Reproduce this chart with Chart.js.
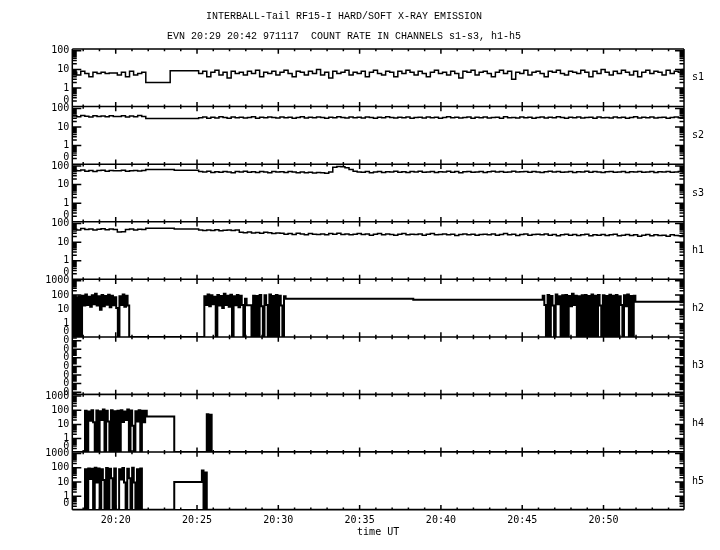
<!DOCTYPE html>
<html>
<head>
<meta charset="utf-8">
<title>INTERBALL-Tail RF15-I</title>
<script src="https://cdn.jsdelivr.net/npm/chart.js@4.4.0/dist/chart.umd.min.js"></script>
<style>
  body { margin: 0; background: #fff; }
  canvas { display: block; }
</style>
</head>
<body>
<canvas id="rfChart" width="720" height="550"></canvas>
<script>
// time axis: minutes after 20:00 UT
const timeStart = 17.33;
const timeEnd = 54.95;
const timeTicks = [20, 25, 30, 35, 40, 45, 50];
const channels = ['s1', 's2', 's3', 'h1', 'h2', 'h3', 'h4', 'h5'];

// s1-s3, h1: one count rate every 15 s from 20:17:21
const sampleStart = 17.35;
const sampleStep = 0.25;

const s1Counts = [7, 5, 8, 6, 4, 7, 6, 7, 6, 6.5, 6.5, 5, 7, 4, 8, 5, 6, 7,
  2, 2, 2, 2, 2, 2,
  8.6, 8.6, 8.6, 8.6, 8.6, 8.6, 8.6,
  6, 8, 4, 7, 9, 5, 7, 3.5, 8, 6,
  7, 5, 8, 6, 9, 4, 7, 6, 8, 5,
  7, 9, 6, 4, 8, 7, 5, 8, 6, 10,
  5, 7, 3.5, 8, 6, 7, 9, 5, 7, 6,
  8, 4, 7, 9, 6, 5, 8, 7, 4, 8,
  6, 9, 7, 5, 8, 6, 4, 7, 9, 6,
  7, 5, 8, 6, 3.5, 8, 7, 9, 5, 7,
  8, 6, 4, 7, 9, 6, 8, 3, 7, 6,
  9, 5, 7, 8, 6, 4, 8, 7, 9, 6,
  5, 8, 7, 6, 9, 7, 4, 8, 6, 10,
  7, 5, 8, 6, 9, 7, 5, 8, 4, 7,
  9, 6, 8, 7, 5, 9, 6, 8, 7, 10, 8];

const s2Counts = [40, 36, 42, 38, 35, 41, 37, 39, 36, 40, 37, 37, 41, 35, 39, 36, 42, 37,
  29, 29, 29, 29, 29, 29, 29, 29, 29, 29, 29, 29, 29,
  32, 35, 30, 34, 31, 36, 33, 30, 35, 32,
  34, 31, 33, 36, 30, 34, 32, 35, 33, 31,
  35, 32, 34, 30, 33, 36, 31, 34, 32, 35,
  33, 30, 34, 32, 36, 33, 31, 35, 32, 34,
  31, 35, 33, 30, 34, 32, 36, 33, 31, 34,
  32, 35, 30, 33, 34, 31, 35, 32, 34, 30,
  33, 36, 32, 34, 31, 33, 35, 30, 34, 32,
  35, 31, 33, 34, 30, 36, 32, 33, 31, 35,
  32, 34, 30, 33, 35, 31, 34, 32, 36, 33,
  30, 34, 32, 35, 31, 33, 34, 30, 35, 32,
  33, 31, 35, 32, 34, 30, 33, 36, 31, 34,
  32, 35, 31, 33, 34, 30, 33, 35, 32, 34, 33];

const s3Counts = [60, 55, 62, 52, 58, 50, 57, 60, 53, 58, 55, 56, 60, 52, 56, 58, 54, 57,
  66, 66, 66, 66, 66, 66, 66,
  59, 59, 59, 59, 59, 59,
  50, 47, 52, 45, 49, 46, 51, 48, 44, 50,
  47, 52, 46, 49, 45, 50, 48, 44, 51, 47,
  49, 45, 50, 47, 43, 48, 44, 46, 42, 45,
  43, 41, 48, 85, 95, 92, 80, 66, 52, 48,
  46, 50, 44, 48, 51, 45, 49, 47, 52, 46,
  49, 45, 50, 47, 53, 46, 48, 51, 45, 49,
  47, 52, 46, 50, 44, 49, 51, 46, 48, 50,
  45, 49, 52, 47, 50, 46, 48, 53, 47, 49,
  51, 46, 50, 48, 45, 49, 52, 47, 50, 46,
  48, 51, 45, 49, 47, 52, 46, 50, 48, 45,
  49, 51, 46, 48, 50, 45, 49, 47, 51, 46,
  48, 50, 45, 49, 47, 51, 46, 48, 50, 47, 49];

const h1Counts = [50, 45, 54, 48, 52, 46, 50, 53, 47, 51, 49, 35, 36, 48, 52, 46, 50, 49,
  56, 56, 56, 56, 56, 56, 56,
  51, 51, 51, 51, 51, 51,
  45, 42, 46, 43, 47, 41, 44, 46, 42, 45,
  34, 32, 35, 31, 33, 30, 34, 32, 29, 31,
  30, 27, 29, 26, 30, 28, 25, 29, 27, 26,
  28, 25, 29, 27, 30, 26, 28, 25, 27, 29,
  26, 28, 24, 27, 29, 25, 28, 26, 24, 27,
  29, 25, 27, 26, 28, 24, 27, 29, 25, 26,
  28, 25, 27, 23, 26, 28, 25, 27, 24, 26,
  27, 25, 28, 24, 26, 29, 25, 27, 23, 26,
  28, 24, 26, 27, 25, 28, 24, 26, 22, 25,
  27, 24, 26, 23, 25, 27, 22, 25, 24, 26,
  23, 25, 27, 22, 24, 26, 23, 25, 21, 24,
  26, 22, 25, 23, 24, 21, 25, 23, 22, 24, 23];

// h2, h4, h5: bursts sampled every 6 s, quiet stretches as held levels
const burstStep = 0.1;

const h2BurstStart = [17.33, 25.45, 46.26];
const h2Burst1 = [45, 0, 70, 0, 80, 0, 90, 18, 110, 20, 75, 15, 95, 22, 120, 18, 80, 9,
  100, 16, 85, 21, 105, 14, 90, 19, 70, 12, 0, 80, 20, 110, 15, 90, 18, 0];
const h2Burst2 = [80, 20, 110, 16, 95, 22, 75, 0, 100, 18, 85, 12, 120, 20, 90, 15, 105, 0,
  80, 19, 100, 14, 90, 20, 0, 55, 19, 19, 19, 0, 90, 0, 85, 0, 100, 16, 0, 95, 20, 0,
  110, 0, 85, 0, 100, 0, 90, 18, 0, 80];
const h2Burst3 = [90, 20, 0, 100, 0, 85, 18, 0, 110, 22, 80, 0, 95, 0, 100, 0, 85, 16, 120, 20,
  90, 0, 80, 0, 95, 0, 100, 0, 85, 0, 110, 0, 90, 0, 100, 18, 0, 95, 0, 85,
  0, 105, 0, 90, 0, 100, 0, 80, 20, 0, 95, 16, 110, 0, 85, 0, 90];
const h2QuietTime = [30.45, 38.3, 51.96, 55.1];
const h2QuietCounts = [55, 47, 34, 34];

const h3Time = [17.33, 55.1];
const h3Counts = [0, 0];

const h4BurstStart = [18.11, 25.6];
const h4Burst1 = [90, 0, 80, 18, 100, 14, 0, 95, 0, 85, 20, 110, 0, 90, 16, 0, 100, 0, 85, 0,
  90, 0, 100, 15, 80, 20, 110, 0, 95, 8, 0, 85, 16, 100, 0, 90, 14, 90];
const h4Burst2 = [52, 0, 48, 0];
const h4QuietTime = [17.33, 21.91, 23.6, 55.1];
const h4QuietCounts = [0, 36, 0, 0];

const h5BurstStart = [18.11, 25.3];
const h5Burst1 = [80, 0, 90, 16, 85, 0, 100, 9, 90, 0, 80, 14, 0, 95, 0, 85, 18, 0, 90, 0,
  0, 80, 15, 95, 9, 0, 85, 18, 0, 100, 9, 0, 80, 0, 90, 0, 0];
const h5Burst2 = [65, 0, 47, 0];
const h5QuietTime = [17.33, 23.6, 55.1];
const h5QuietCounts = [0, 9.8, 0];

// axis ranges in decades of count rate
const softRange = { min: -1.0, max: 2.1, zero: -0.65 };
const hardRange = { min: -0.95, max: 3.1, zero: -0.53 };
const flatRange = { min: -0.27, max: 6.43, zero: 0 };

const tickFont = { family: '"DejaVu Sans Mono", "Liberation Mono", monospace', size: 10 };
const titleFont = '10px "Liberation Mono", "DejaVu Sans Mono", monospace';

function sampled(values) {
  return values.map((v, i) => ({ x: sampleStart + i * sampleStep, v: v }));
}

function bursty(starts, bursts, quietTime, quietCounts) {
  const pts = [];
  bursts.forEach((vals, b) => {
    vals.forEach((v, k) => pts.push({ x: starts[b] + k * burstStep, v: v }));
  });
  quietTime.forEach((t, i) => pts.push({ x: t, v: quietCounts[i] }));
  return pts.sort((a, b) => a.x - b.x);
}

const series = {
  s1: sampled(s1Counts),
  s2: sampled(s2Counts),
  s3: sampled(s3Counts),
  h1: sampled(h1Counts),
  h2: bursty(h2BurstStart, [h2Burst1, h2Burst2, h2Burst3], h2QuietTime, h2QuietCounts),
  h3: h3Time.map((t, i) => ({ x: t, v: h3Counts[i] })),
  h4: bursty(h4BurstStart, [h4Burst1, h4Burst2], h4QuietTime, h4QuietCounts),
  h5: bursty(h5BurstStart, [h5Burst1, h5Burst2], h5QuietTime, h5QuietCounts),
};

const ranges = {
  s1: softRange, s2: softRange, s3: softRange, h1: softRange,
  h2: hardRange, h3: flatRange, h4: hardRange, h5: hardRange,
};
const bursting = ['h2', 'h4', 'h5'];

function tickValues(name) {
  const r = ranges[name];
  if (name === 'h3') return [0, 1, 2, 3, 4, 5, 6];
  const out = [r.zero];
  for (let d = 0; d <= Math.floor(r.max); d++) out.push(d);
  return out;
}

function tickLabel(name, value) {
  if (name === 'h3') return '0';
  if (value < 0) return '0';
  return String(Math.round(Math.pow(10, value)));
}

const scales = {
  x: {
    type: 'linear',
    position: 'bottom',
    min: timeStart,
    max: timeEnd,
    afterBuildTicks: axis => { axis.ticks = timeTicks.map(v => ({ value: v })); },
    afterFit: axis => { axis.height = 40.3; },
    grid: { display: false, drawTicks: false },
    border: { display: false },
    ticks: {
      autoSkip: false, maxRotation: 0, padding: 5, color: '#000', font: tickFont,
      callback: v => '20:' + v,
    },
    title: {
      display: true, text: 'time UT', color: '#000', font: tickFont,
      padding: { top: 0, bottom: 12 },
    },
  },
};

// stacked left axes are laid out last-defined on top, so define h5 first
channels.slice().reverse().forEach(name => {
  const r = ranges[name];
  scales['y' + name] = {
    type: 'linear',
    position: 'left',
    stack: 'panels',
    stackWeight: 1,
    min: r.min,
    max: r.max,
    afterBuildTicks: axis => { axis.ticks = tickValues(name).map(v => ({ value: v })); },
    afterFit: axis => { axis.width = 72.3; },
    grid: { display: false, drawTicks: false },
    border: { display: false },
    ticks: {
      autoSkip: false, padding: 3, color: '#000', font: tickFont,
      callback: v => tickLabel(name, v),
    },
  };
});

const datasets = channels.map(name => {
  const r = ranges[name];
  return {
    label: name,
    yAxisID: 'y' + name,
    data: series[name].map(p => ({ x: p.x, y: p.v > 0 ? Math.log10(p.v) : r.min })),
    borderColor: '#000',
    borderWidth: bursting.includes(name) ? 2 : 1.5,
    pointRadius: 0,
    stepped: true,
    fill: false,
  };
});

// panel frames, tick marks, channel names and heading
const framePlugin = {
  id: 'panelFrame',
  afterDraw(chart) {
    const ctx = chart.ctx;
    const area = chart.chartArea;
    const xs = chart.scales.x;
    ctx.save();
    ctx.strokeStyle = '#000';
    ctx.fillStyle = '#000';
    ctx.lineWidth = 1.5;

    const edges = [];
    channels.forEach(name => {
      const sc = chart.scales['y' + name];
      if (!edges.some(e => Math.abs(e - sc.top) < 0.5)) edges.push(sc.top);
      if (!edges.some(e => Math.abs(e - sc.bottom) < 0.5)) edges.push(sc.bottom);
    });

    ctx.beginPath();
    edges.forEach(y => { ctx.moveTo(area.left, y); ctx.lineTo(area.right, y); });
    ctx.moveTo(area.left, area.top); ctx.lineTo(area.left, area.bottom);
    ctx.moveTo(area.right, area.top); ctx.lineTo(area.right, area.bottom);
    ctx.stroke();

    // minute ticks on each panel edge
    ctx.beginPath();
    edges.forEach(y => {
      for (let m = Math.ceil(timeStart); m <= timeEnd; m++) {
        const x = xs.getPixelForValue(m);
        const len = m % 5 === 0 ? 4.7 : 2.2;
        const up = Math.abs(y - area.top) < 0.5 ? 0 : len;
        const down = Math.abs(y - area.bottom) < 0.5 ? 0 : len;
        ctx.moveTo(x, y - up);
        ctx.lineTo(x, y + down);
      }
    });
    ctx.stroke();

    // decade ticks on both sides of each panel
    ctx.beginPath();
    channels.forEach(name => {
      const sc = chart.scales['y' + name];
      for (let d = Math.floor(sc.min); d <= Math.ceil(sc.max); d++) {
        for (let k = 1; k <= 9; k++) {
          const pos = d + Math.log10(k);
          if (pos <= sc.min || pos >= sc.max) continue;
          const y = sc.getPixelForValue(pos);
          const len = k === 1 ? 9 : 4.5;
          ctx.moveTo(area.left, y); ctx.lineTo(area.left + len, y);
          ctx.moveTo(area.right - len, y); ctx.lineTo(area.right, y);
        }
      }
    });
    ctx.stroke();

    ctx.font = tickFont.size + 'px ' + tickFont.family;
    ctx.textAlign = 'left';
    ctx.textBaseline = 'middle';
    channels.forEach(name => {
      const sc = chart.scales['y' + name];
      ctx.fillText(name, area.right + 8, (sc.top + sc.bottom) / 2);
    });

    ctx.font = titleFont;
    ctx.textAlign = 'center';
    ctx.fillText('INTERBALL-Tail RF15-I HARD/SOFT X-RAY EMISSION', 344, 16);
    ctx.fillText('EVN 20:29 20:42 971117  COUNT RATE IN CHANNELS s1-s3, h1-h5', 344, 36);
    ctx.restore();
  },
};

const chart = new Chart(document.getElementById('rfChart').getContext('2d'), {
  type: 'line',
  data: { datasets: datasets },
  options: {
    responsive: false,
    animation: false,
    events: [],
    layout: { padding: { top: 49, right: 36, bottom: 0, left: 0 } },
    plugins: {
      legend: { display: false },
      tooltip: { enabled: false },
    },
    scales: scales,
  },
  plugins: [framePlugin],
});
</script>
</body>
</html>
